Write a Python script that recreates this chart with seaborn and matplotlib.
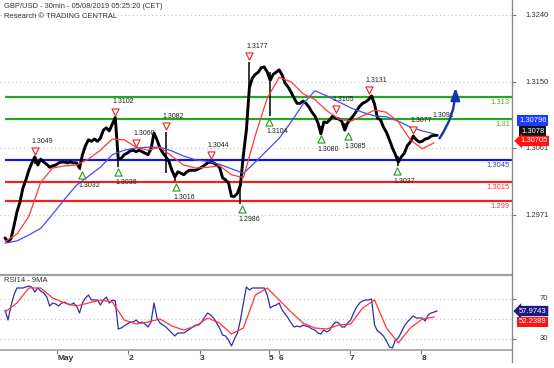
import numpy as np
import pandas as pd
import matplotlib
matplotlib.use("Agg")
import matplotlib.pyplot as plt
import matplotlib.transforms as mtransforms
from matplotlib.lines import Line2D
import seaborn as sns

# ---------------- data (hourly samples) ----------------
price = [
    1.2940, 1.2935, 1.2939, 1.2956, 1.2975, 1.2988, 1.3007, 1.3018, 1.3031, 1.3041,
    1.3049, 1.3038, 1.3046, 1.3042, 1.3039, 1.3035, 1.3037, 1.3038, 1.3041, 1.3042,
    1.3042, 1.3041, 1.3042, 1.3041, 1.3041, 1.3034, 1.3052, 1.3064, 1.3072, 1.3070,
    1.3073, 1.3070, 1.3074, 1.3085, 1.3088, 1.3084, 1.3093, 1.3102, 1.3046, 1.3047,
    1.3052, 1.3054, 1.3057, 1.3058, 1.3056, 1.3058, 1.3056, 1.3054, 1.3052, 1.3060,
    1.3081, 1.3072, 1.3061, 1.3054, 1.3049, 1.3043, 1.3031, 1.3022, 1.3029, 1.3027,
    1.3025, 1.3029, 1.3031, 1.3031, 1.3031, 1.3033, 1.3035, 1.3038, 1.3041, 1.3042,
    1.3041, 1.3038, 1.3035, 1.3021, 1.3018, 1.3014, 1.2996, 1.2996, 1.3000, 1.3011,
    1.3052, 1.3085, 1.3142, 1.3155, 1.3160, 1.3163, 1.3169, 1.3170, 1.3163, 1.3152,
    1.3160, 1.3163, 1.3166, 1.3159, 1.3148, 1.3143, 1.3136, 1.3128, 1.3121, 1.3121,
    1.3124, 1.3121, 1.3116, 1.3109, 1.3104, 1.3095, 1.3080, 1.3096, 1.3095, 1.3099,
    1.3104, 1.3101, 1.3100, 1.3097, 1.3085, 1.3095, 1.3100, 1.3105, 1.3111, 1.3117,
    1.3121, 1.3123, 1.3126, 1.3131, 1.3120, 1.3101, 1.3099, 1.3089, 1.3082, 1.3072,
    1.3061, 1.3052, 1.3042, 1.3049, 1.3054, 1.3064, 1.3069, 1.3077, 1.3072, 1.3069,
    1.3070, 1.3073, 1.3074, 1.3077, 1.3078, 1.3078,
]
wick_hours = [10, 25, 38, 54, 57, 79, 82, 89, 106, 114, 132]
wick_low = [1.3040, 1.3032, 1.3036, 1.3027, 1.3016, 1.2986, 1.3130, 1.3104, 1.3080, 1.3085, 1.3037]
wick_high = [1.3049, 1.3041, 1.3050, 1.3082, 1.3025, 1.3012, 1.3177, 1.3163, 1.3090, 1.3095, 1.3050]

# moving averages, one value every 4 hours
ma_step = 4
red_ma = [1.2935, 1.2945, 1.2969, 1.3015, 1.3034, 1.3037, 1.3038, 1.3046, 1.3058, 1.3073,
          1.3072, 1.3062, 1.3058, 1.3062, 1.3050, 1.3038, 1.3034, 1.3035, 1.3037, 1.3025,
          1.3021, 1.3078, 1.3128, 1.3156, 1.3150, 1.3134, 1.3126, 1.3111, 1.3100, 1.3097,
          1.3104, 1.3112, 1.3109, 1.3096, 1.3072, 1.3060, 1.3068]
blue_ma = [1.2933, 1.2936, 1.2944, 1.2953, 1.2972, 1.2992, 1.3011, 1.3023, 1.3035, 1.3052,
           1.3058, 1.3061, 1.3062, 1.3062, 1.3057, 1.3050, 1.3045, 1.3043, 1.3039, 1.3033,
           1.3027, 1.3042, 1.3058, 1.3074, 1.3096, 1.3120, 1.3138, 1.3131, 1.3123, 1.3115,
           1.3109, 1.3104, 1.3103, 1.3097, 1.3089, 1.3084, 1.3080]

rsi = [59, 49, 63, 74, 81, 81, 81, 82, 83, 82, 77, 81, 78, 76, 72, 63, 66, 65, 63, 66,
       67, 65, 64, 66, 63, 56, 66, 71, 74, 69, 69, 69, 64, 69, 72, 66, 69, 68, 40, 41,
       43, 45, 47, 47, 49, 46, 47, 45, 42, 47, 66, 51, 46, 44, 42, 39, 36, 33, 36, 36,
       36, 38, 40, 42, 44, 44, 47, 52, 56, 54, 51, 46, 41, 34, 33, 29, 23, 30, 36, 49,
       66, 82, 79, 81, 81, 81, 81, 81, 74, 61, 63, 64, 66, 59, 55, 51, 46, 42, 43, 42,
       44, 43, 42, 40, 39, 36, 35, 39, 37, 39, 44, 47, 46, 42, 42, 46, 49, 56, 62, 66,
       68, 69, 69, 70, 44, 38, 36, 33, 28, 22, 21, 29, 31, 37, 43, 47, 50, 53, 51, 51,
       51, 48, 54, 56, 57, 57.97]
rsi_ma = [57, 66, 81, 81, 71, 66, 63, 66, 69, 67, 49, 45, 47, 50, 43, 39, 43, 51, 46, 35,
          41, 74, 81, 69, 57, 46, 41, 40, 44, 45, 61, 69, 41, 26, 41, 50, 52]

high_hours = [10, 37, 44, 54, 69, 82, 111, 122, 137]
high_vals = [1.3049, 1.3102, 1.3060, 1.3082, 1.3044, 1.3177, 1.3105, 1.3131, 1.3077]
low_hours = [25.8, 38, 57.4, 79.5, 88.6, 106, 115, 131.5]
low_vals = [1.3032, 1.3036, 1.3016, 1.2986, 1.3104, 1.3080, 1.3085, 1.3037]
target_hour, target_val = 143.3, 1.3091

levels = [1.3130, 1.3100, 1.3045, 1.3015, 1.2990]
level_labels = ["1.313", "1.31", "1.3045", "1.3015", "1.299"]
level_colors = ["#22a822", "#22a822", "#1414e0", "#f02020", "#f02020"]
level_text_colors = ["#5fa83a", "#5fa83a", "#3a3ad0", "#f03a3a", "#f03a3a"]

price_ticks = [1.3240, 1.3150, 1.3061, 1.2971]
rsi_ticks = [70, 50, 30]
rsi_tick_labels = ["70", "", "30"]

day_hours = [17.5, 41.4, 65.3, 88.6, 91.8, 115.7, 139.7]
day_labels = ["May", "2", "3", "5", "6", "7", "8"]

last_close, last_blue, last_red = 1.3078, 1.30796, 1.30705
last_rsi, last_rsi_ma = 57.9743, 52.2389
arrow_from = (145.8, 1.3074)
arrow_to = (151.2, 1.3142)

# ---------------- drawing ----------------
sns.set_theme(style="white")
plt.rcParams['font.family'] = ['Liberation Sans', 'DejaVu Sans']

W, H = 554, 368
fig = plt.figure(figsize=(W / 100, H / 100), dpi=100)
ax = fig.add_axes([0, 1 - 272 / H, 512 / W, 272 / H])
ax2 = fig.add_axes([0, 1 - 350 / H, 512 / W, 75 / H])

xlim = (-1.68, 170.13)
ax.set_xlim(*xlim)
ax.set_ylim(1.28942, 1.3260)
ax2.set_xlim(*xlim)
ax2.set_ylim(19, 94)

hours = np.arange(len(price))
df = pd.DataFrame({"h": hours, "price": price, "rsi": rsi})
ma_df = pd.DataFrame({"h": np.arange(len(red_ma)) * ma_step, "red": red_ma, "blue": blue_ma,
                      "rsi_ma": rsi_ma})

grid_kw = dict(color="#c4c4c4", lw=0.8, ls=(0, (1, 2.5)), zorder=0)
for g in price_ticks:
    ax.axhline(g, **grid_kw)
for g in rsi_ticks:
    ax2.axhline(g, **grid_kw)

# support / resistance levels
ax.hlines(levels, hours[0], xlim[1], colors=level_colors, lw=1.6, zorder=2)
blend = mtransforms.blended_transform_factory(ax.transAxes, ax.transData)
for v, t, c in zip(levels, level_labels, level_text_colors):
    ax.annotate(t, xy=(510 / 512, v), xycoords=blend, xytext=(0, -1.5),
                textcoords="offset points", ha="right", va="top", fontsize=5.5, color=c)

# price
ax.vlines(wick_hours, wick_low, wick_high, colors="black", lw=1.1, zorder=3)
sns.lineplot(data=df, x="h", y="price", ax=ax, color="black", linewidth=2.1, zorder=3)
sns.lineplot(data=ma_df, x="h", y="blue", ax=ax, color="#4a4af2", linewidth=0.9, zorder=4)
sns.lineplot(data=ma_df, x="h", y="red", ax=ax, color="#ff3a3a", linewidth=0.9, zorder=4)

# pivot markers
up_tr = mtransforms.offset_copy(ax.transData, fig=fig, x=0, y=4.3, units="points")
dn_tr = mtransforms.offset_copy(ax.transData, fig=fig, x=0, y=-4.0, units="points")
ax.scatter(high_hours, high_vals, marker="v", s=26, facecolors="white",
           edgecolors="#ee2020", linewidths=0.8, zorder=6, transform=up_tr)
ax.scatter(low_hours, low_vals, marker="^", s=26, facecolors="white",
           edgecolors="#1e9a1e", linewidths=0.8, zorder=6, transform=dn_tr)
for h, v in zip(high_hours, high_vals):
    ax.annotate(f"{v:.4f}", xy=(h, v), xytext=(-2.2, 11.2), textcoords="offset points",
                ha="left", va="center", fontsize=5, color="#222222", zorder=7)
for h, v in zip(low_hours, low_vals):
    ax.annotate(f"{v:.4f}", xy=(h, v), xytext=(-2.2, -11.5), textcoords="offset points",
                ha="left", va="center", fontsize=5, color="#222222", zorder=7)
ax.annotate(f"{target_val:.4f}", xy=(target_hour, target_val), xytext=(0, 7.5),
            textcoords="offset points", ha="left", va="center", fontsize=5, color="#222222")

# forecast arrow
ax.annotate("", xy=arrow_to, xytext=arrow_from,
            arrowprops=dict(arrowstyle="-|>,head_length=0.8,head_width=0.3", color="#1530b0",
                            lw=1.7, mutation_scale=9, connectionstyle="arc3,rad=0.15",
                            shrinkA=0, shrinkB=0), zorder=8)

# RSI panel
sns.lineplot(data=df, x="h", y="rsi", ax=ax2, color="#2e2eb0", linewidth=0.9, zorder=3)
sns.lineplot(data=ma_df, x="h", y="rsi_ma", ax=ax2, color="#ff3535", linewidth=0.9, zorder=4)

# axes styling
for a in (ax, ax2):
    a.set_xlabel("")
    a.set_ylabel("")
    a.set_facecolor("none")
    for s in a.spines.values():
        s.set_visible(False)
ax.set_xticks([])
ax.yaxis.tick_right()
ax.set_yticks(price_ticks)
ax.set_yticklabels([f"{v:.4f}" for v in price_ticks])
ax.tick_params(axis="y", right=True, length=3, width=0.8, color="#777777", pad=7,
               labelsize=5.5, labelcolor="#333333")

ax2.spines["top"].set_visible(True)
ax2.spines["top"].set_color("#a0a0a0")
ax2.spines["top"].set_linewidth(1.6)
ax2.spines["bottom"].set_visible(True)
ax2.spines["bottom"].set_color("#a0a0a0")
ax2.spines["bottom"].set_linewidth(1.2)
ax2.yaxis.tick_right()
ax2.set_yticks([rsi_ticks[0], rsi_ticks[2]])
ax2.set_yticklabels([])
ax2.tick_params(axis="y", right=True, length=3, width=0.8, color="#777777")
blend2 = mtransforms.blended_transform_factory(ax2.transAxes, ax2.transData)
for v, t in zip(rsi_ticks, rsi_tick_labels):
    if t:
        ax2.text(548 / 512, v, t, transform=blend2, ha="right", va="center",
                 fontsize=5.5, color="#333333")
ax2.set_xticks(day_hours)
ax2.set_xticklabels(day_labels, fontweight="bold", fontsize=6, color="#333333")
for lab in ax2.get_xticklabels():
    lab.set_horizontalalignment("left")
ax2.tick_params(axis="x", bottom=True, length=3, width=0.8, color="#777777", pad=0.5)

# right vertical axis line
fig.add_artist(Line2D([512 / W, 512 / W], [1 - 362 / H, 1], transform=fig.transFigure,
                      color="#8a8a8a", lw=1.0))

# last-value boxes
def box(a, btrans, x, v, dy, text, fc, style):
    a.annotate(text, xy=(x, v), xycoords=btrans, xytext=(0, dy), textcoords="offset points",
               ha="left", va="center", fontsize=5.5, color="white", annotation_clip=False,
               bbox=dict(boxstyle=style, fc=fc, ec="none"), zorder=10)

box(ax, blend, 519 / 512, last_blue, 9.8, f"{last_blue:.5f}", "#1e3cff", "square,pad=0.25")
box(ax, blend, 521 / 512, last_close, 3.0, f"{last_close:.4f}", "#111111", "square,pad=0.2")
box(ax, blend, 520 / 512, last_red, 0, f"{last_red:.5f}", "#ff1414", "larrow,pad=0.22")
box(ax2, blend2, 519 / 512, last_rsi, 0, f"{last_rsi:.4f}", "#1a1a80", "larrow,pad=0.22")
box(ax2, blend2, 519 / 512, last_rsi_ma, -3.7, f"{last_rsi_ma:.4f}", "#ff1414", "square,pad=0.22")

# header texts
fig.text(4 / W, 1 - 7 / H, "GBP/USD - 30min - 05/08/2019 05:25:20 (CET)", fontsize=5.4,
         va="center", ha="left", color="#333333")
fig.text(4 / W, 1 - 17 / H, "Research \u00a9 TRADING CENTRAL", fontsize=5.4,
         va="center", ha="left", color="#333333")
fig.text(4 / W, 1 - 281 / H, "RSI14 - 9MA", fontsize=5.5, va="center", ha="left",
         color="#333333")

fig.savefig("out.png", dpi=100)
